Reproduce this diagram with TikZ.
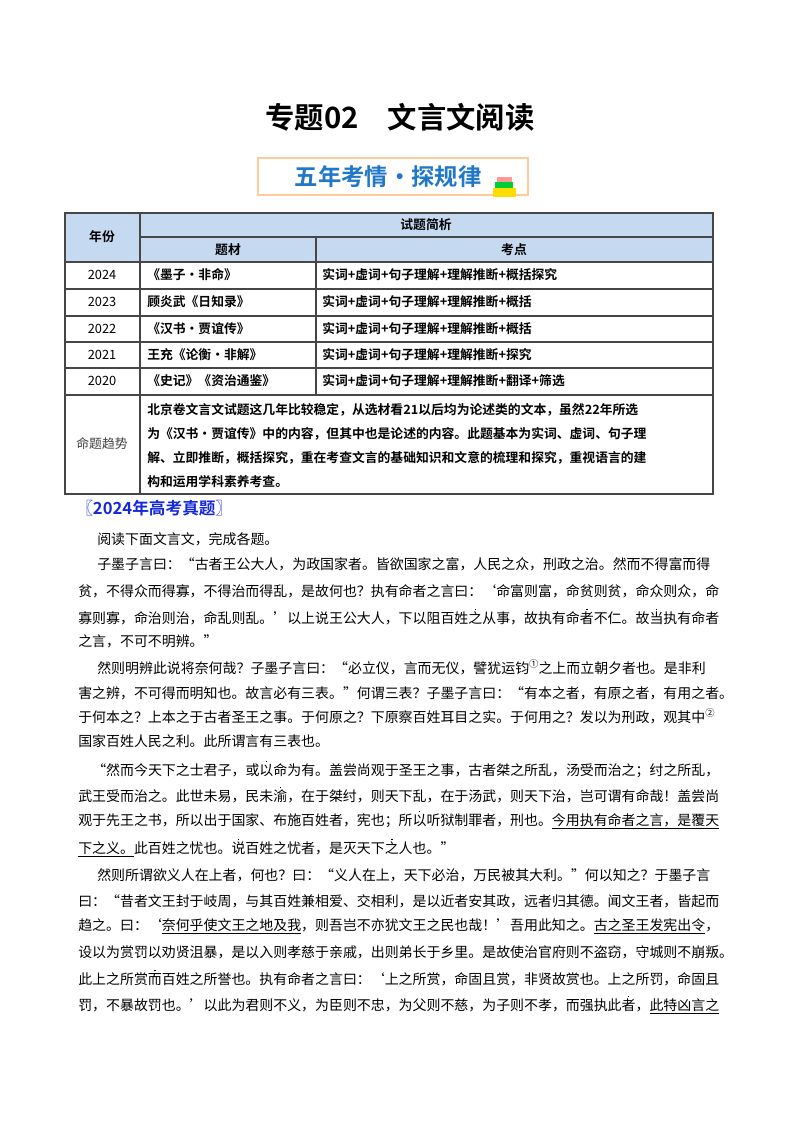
\documentclass[tikz,border=0pt]{standalone}
\usepackage{fontspec}
\setmainfont{Noto Sans CJK SC}[BoldFont={Noto Sans CJK SC Bold}]
\usetikzlibrary{positioning}
\definecolor{headblue}{RGB}{197,217,241}
\definecolor{titleblue}{RGB}{34,120,200}
\definecolor{linkblue}{RGB}{20,40,220}
\definecolor{framegray}{RGB}{70,70,70}
\newcommand\edot[1]{\makebox[0pt][l]{\hspace{0.45em}\raisebox{0.95em}{\rule{1.1pt}{1.1pt}}}#1}
\newcommand\circnum[1]{\raisebox{0.45em}{\fontsize{7}{7}\selectfont #1}}

\begin{document}
\begin{tikzpicture}[x=0.75pt,y=-0.75pt,
  body/.style={anchor=west,inner sep=0,font=\fontsize{10.45}{12}\selectfont},
  cell/.style={anchor=west,inner sep=0,font=\fontsize{9.6}{11}\selectfont},
  head/.style={inner sep=0,font=\bfseries\fontsize{9.6}{11}\selectfont},
  grid/.style={draw=framegray,line width=0.8pt}]
\useasboundingbox (0,0) rectangle (800,1132);

% title and banner
\node (title) at (400,117) {\bfseries\fontsize{22}{26}\selectfont 专题02\quad 文言文阅读};
\draw[draw=orange!40,line width=1pt,fill=white] (258,158) rectangle (528,195);
\node[text=titleblue] (banner) at (388,177) {\bfseries\fontsize{17.5}{20}\selectfont 五年考情·探规律};
\fill[yellow!80!orange] (493,188) rectangle (516,197);
\fill[green!60!teal] (495,182) rectangle (513,188);
\fill[pink!80!red] (497,177) rectangle (512,182);

% table
\fill[headblue] (65,213) rectangle (713,262);
\draw[grid] (65,213) rectangle (713,494);
\draw[grid] (140,237) -- (713,237);
\draw[grid] (65,262) -- (713,262);
\foreach \yy in {289,316,342,368,395} \draw[grid] (65,\yy) -- (713,\yy);
\draw[grid] (140,213) -- (140,494);
\draw[grid] (316,237) -- (316,395);
\node[head] (nianfen) at (102,237) {年份};
\node[head] (jianxi) at (426,225) {试题简析};
\node[head] (ticai) at (228,250) {题材};
\node[head] (kaodian) at (514,250) {考点};
\foreach \yy/\yr/\src/\pt in {
  275/2024/《墨子·非命》/实词+虚词+句子理解+理解推断+概括探究,
  302/2023/顾炎武《日知录》/实词+虚词+句子理解+理解推断+概括,
  329/2022/《汉书·贾谊传》/实词+虚词+句子理解+理解推断+概括,
  355/2021/王充《论衡·非解》/实词+虚词+句子理解+理解推断+探究,
  381/2020/《史记》《资治通鉴》/实词+虚词+句子理解+理解推断+翻译+筛选}{
  \node[inner sep=0,font=\fontsize{9.6}{11}\selectfont] at (102,\yy) {\yr};
  \node[cell] at (147,\yy) {\bfseries\src};
  \node[cell] at (322,\yy) {\bfseries\pt};
}
\node[inner sep=0,font=\fontsize{9.6}{11}\selectfont,text=black!75] (trend) at (102,444) {命题趋势};
\node[cell] at (147,410) {\bfseries 北京卷文言文试题这几年比较稳定，从选材看21以后均为论述类的文本，虽然22年所选};
\node[cell] at (147,434) {\bfseries 为《汉书·贾谊传》中的内容，但其中也是论述的内容。此题基本为实词、虚词、句子理};
\node[cell] at (147,458) {\bfseries 解、立即推断，概括探究，重在考查文言的基础知识和文意的梳理和探究，重视语言的建};
\node[cell] at (147,482) {\bfseries 构和运用学科素养考查。};

% passage
\node[anchor=west,inner sep=0,text=linkblue] (zhenti) at (76,508) {\bfseries\fontsize{12.5}{14}\selectfont 〖2024年高考真题〗};
\node[body] at (97,539) {阅读下面文言文，完成各题。};
\node[body] at (97,564) {子墨子言曰：“古者王公大人，为政国家者。皆欲国家之富，人民之众，刑政之治。然而不得富而得};
\node[body] at (78,591) {贫，不得众而得寡，不得治而得乱，是故何也？执有命者之言曰：‘命富则富，命贫则贫，命众则众，命};
\node[body] at (78,617) {寡则寡，命治则治，命乱则乱。’以上说王公大人，下以阻百姓\edot{之}从事，故执有命\edot{者}不仁。故\edot{当}执有命者};
\node[body] at (78,641) {之言，不可不明辨。”};
\node[body] at (97,667) {然则明辨此说将奈何哉？子墨子言曰：“必立仪，言而无仪，譬犹运钧\circnum{①}之上而立朝夕者也。是非利};
\node[body] at (78,693) {害之辨，不可得而明知也。故言必有三表。”何谓三表？子墨子言曰：“有本之者，有原之者，有用之者。};
\node[body] at (78,716) {于何本之？上本之于古者圣王之事。于何原之？下原察百姓耳目之实。于何用之？发以为刑政，观其中\circnum{②}};
\node[body] at (78,741) {国家百姓人民之利。此所谓言有三表也。};
\node[body] at (92,769) {“然而今天下之士君子，或\edot{以}命为有。盖尝尚观于圣王之事，古者桀之所乱，汤受而治之；纣之所乱，};
\node[body] at (78,795) {武王受而治之。此世未易，民未\edot{渝}，在于桀纣，则天下乱，在于汤武，则天下治，岂可谓有命哉！盖尝尚};
\node[body] at (78,820) {观于先王之书，所以出于国家、布施百姓者，宪也；所\edot{以}听狱制罪者，刑也。\underline{今用执有命者之言，是覆天}};
\node[body] at (78,848) {\underline{下之义。}此百姓之忧也。\edot{说}百姓之忧者，是灭天下\edot{之}人也。”};
\node[body] at (97,875) {然则所谓欲义人在上者，何也？曰：“义人在上，天下必治，万民被其大利。”何以知之？于墨子言};
\node[body] at (78,901) {曰：“昔者文王封于岐周，与其百姓兼相爱、交相利，是以近者安其政，远者归其德。闻文王者，皆起而};
\node[body] at (78,926) {趋之。曰：‘\underline{奈何乎使文王之地及我}，则吾岂不亦犹文王之民也哉！’吾用此知之。\underline{古之圣王发宪出令}，};
\node[body] at (78,952) {设以为赏罚以劝贤沮暴，是以入则孝慈于亲戚，出则弟长于乡里。是故使治官府则不盗窃，守城则不崩叛。};
\node[body] at (78,978) {此上之所赏\edot{而}百姓之所誉也。执有命者之言曰：‘上之所赏，命固且赏，非贤故赏也。上之所罚，命固且};
\node[body] at (78,1005) {罚，不暴故罚也。’以此为君则不义，为臣则不忠，为父则不慈，为子则不孝，而强执此\edot{者}，\underline{此特凶言之}};
\end{tikzpicture}
\end{document}
